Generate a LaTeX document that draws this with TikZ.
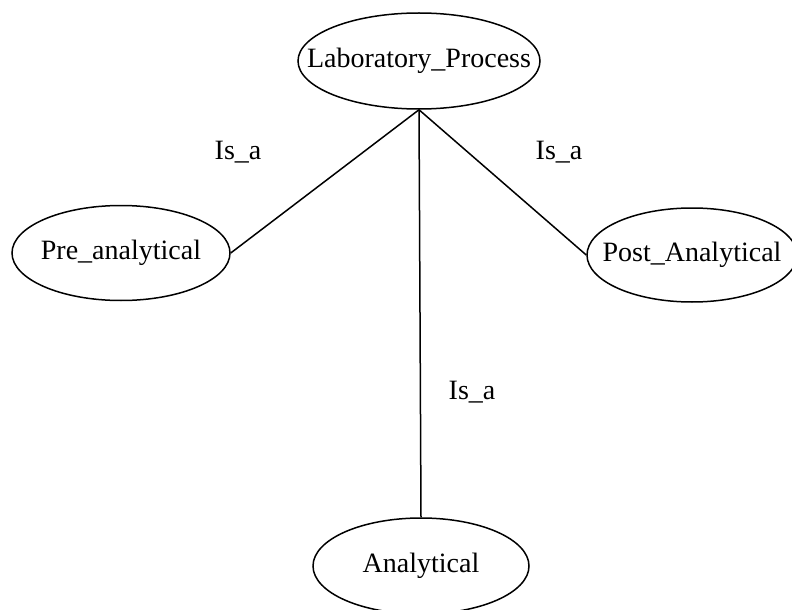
\documentclass[tikz,border=0pt]{standalone}
\usepackage{fontspec}
\setmainfont{Liberation Serif}
\usetikzlibrary{shapes.geometric,positioning}

\begin{document}
\begin{tikzpicture}[x=0.5pt,y=-0.5pt,line width=0.75pt,
	concept/.style={shape=ellipse,draw,inner xsep=-30pt,inner ysep=0pt,font=\fontsize{14}{17}\selectfont},
	rel/.style={font=\fontsize{14}{17}\selectfont}]
	\useasboundingbox (0,0) rectangle (792,610);
	\path (419,61) node (lab) [concept,minimum width=121pt,minimum height=48pt] {Laboratory\_Process}
		  (121,253) node (pre) [concept,minimum width=109pt,minimum height=47.5pt] {Pre\_analytical}
		  (692,255) node (post) [concept,minimum width=105pt,minimum height=47pt] {Post\_Analytical}
		  (421,566) node (ana) [concept,minimum width=108pt,minimum height=48pt] {Analytical};
	\coordinate (hub) at (lab.south);
	\draw (hub) -- (pre.east);
	\draw (hub) -- (post.west);
	\draw (hub) -- (ana.north);
	\path (238,152) node (r1) [rel] {Is\_a}
		  (559,152) node (r2) [rel] {Is\_a}
		  (472,392) node (r3) [rel] {Is\_a};
\end{tikzpicture}
\end{document}
